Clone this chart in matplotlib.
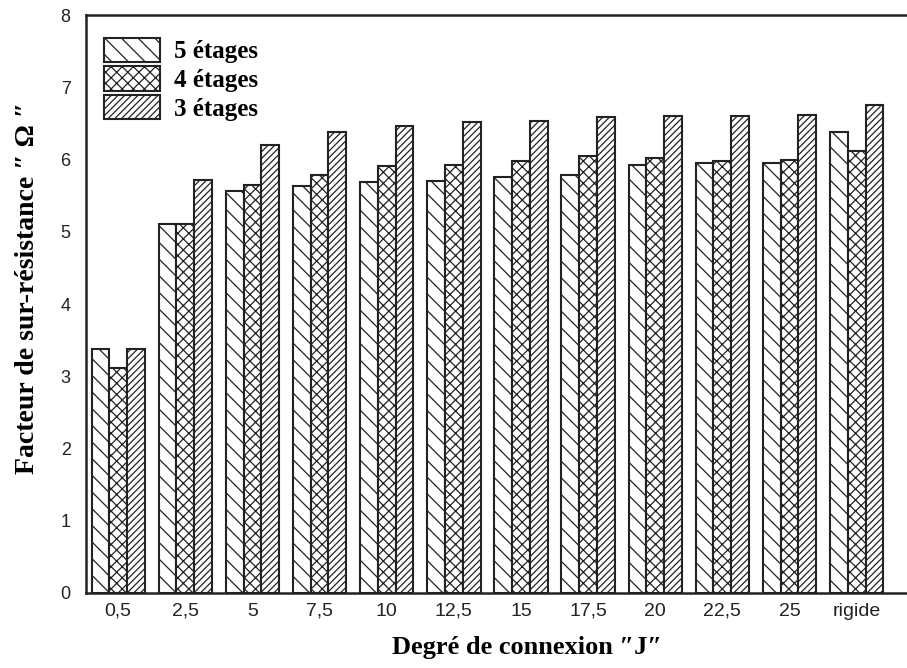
import matplotlib
matplotlib.use("Agg")
import matplotlib.pyplot as plt
import numpy as np

categories = ["0,5", "2,5", "5", "7,5", "10", "12,5", "15", "17,5", "20", "22,5", "25", "rigide"]
etages5 = [3.38, 5.11, 5.57, 5.64, 5.69, 5.70, 5.76, 5.79, 5.93, 5.95, 5.95, 6.38]
etages4 = [3.11, 5.11, 5.65, 5.78, 5.91, 5.92, 5.98, 6.05, 6.02, 5.98, 6.00, 6.12]
etages3 = [3.38, 5.72, 6.20, 6.38, 6.46, 6.52, 6.53, 6.59, 6.60, 6.60, 6.62, 6.75]
series_labels = ["5 étages", "4 étages", "3 étages"]
yticks = [0, 1, 2, 3, 4, 5, 6, 7, 8]

plt.rcParams['hatch.linewidth'] = 0.9
fig = plt.figure(figsize=(9.07, 6.68), dpi=100)
ax = fig.add_axes([0.0948, 0.1123, 0.9052, 0.8652])

x = np.arange(len(categories))
w = 0.265
hatches = ["\\\\", "xxx", "/////"]
for i, (vals, lab, h) in enumerate(zip([etages5, etages4, etages3], series_labels, hatches)):
    ax.bar(x + (i - 1) * w, vals, width=w, facecolor="white", edgecolor="#222222",
           linewidth=1.5, hatch=h, label=lab)

ax.set_xlim(-0.48, 11.75)
ax.set_ylim(0, 8)
ax.set_yticks(yticks)
ax.set_xticks(x)
ax.set_xticklabels(categories)
ax.tick_params(axis="both", length=0, labelsize=13, colors="#222222")
ax.tick_params(axis="x", labelsize=14)
ax.tick_params(axis="y", pad=11)
ax.tick_params(axis="x", pad=7)
for lab in ax.get_xticklabels() + ax.get_yticklabels():
    lab.set_fontfamily("Liberation Sans")

for s in ["left", "top", "bottom"]:
    ax.spines[s].set_linewidth(1.8)
    ax.spines[s].set_color("#222222")
ax.spines["right"].set_visible(False)

ax.set_xlabel('Degré de connexion ″J″', fontfamily="Liberation Serif", fontweight="bold",
              fontsize=19)
ax.set_ylabel('Facteur de sur-résistance ″ Ω ″', fontfamily="Liberation Serif", fontweight="bold",
              fontsize=20)
ax.xaxis.set_label_coords(0.537, -0.075)
ax.yaxis.set_label_coords(-0.056, 0.528)

leg = ax.legend(loc="upper left", bbox_to_anchor=(0.022, 0.961), frameon=False,
                prop={"family": "Liberation Serif", "weight": "bold", "size": 18},
                handlelength=2.24, handleheight=1.12, labelspacing=0.12, handletextpad=0.56,
                borderaxespad=0, borderpad=0)

fig.savefig("out.png", dpi=100)
